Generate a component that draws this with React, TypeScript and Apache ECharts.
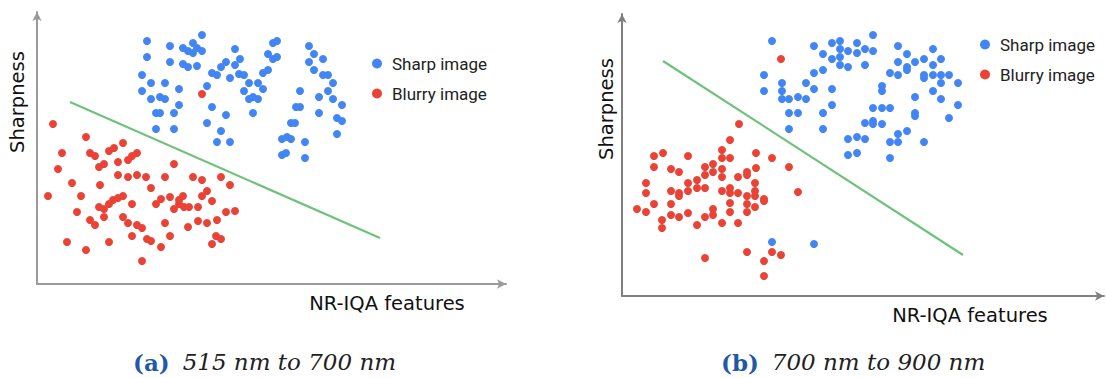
import React, { useEffect, useRef } from "react";
import * as echarts from "echarts";

// Panel (a): 515 nm to 700 nm — [NR-IQA feature, sharpness]
const sharpA: number[][] = [
  [110, 243], [110, 227], [133, 238], [133, 222], [105, 209], [105, 193], [114, 201], [114, 185],
  [128, 201], [123, 187], [128, 185], [119, 171], [123, 171], [119, 155], [137, 171], [137, 155],
  [142, 195], [142, 179], [146, 236], [151, 233], [156, 241], [160, 236], [156, 231], [165, 249],
  [165, 233], [146, 220], [151, 217], [160, 218], [170, 198], [175, 211], [180, 209], [184, 217],
  [189, 222], [198, 235], [198, 219], [203, 225], [193, 206], [202, 210], [207, 209], [212, 201],
  [207, 193], [212, 185], [216, 187], [221, 185], [221, 201], [226, 195], [216, 171], [175, 177],
  [170, 161], [189, 169], [184, 153], [180, 142], [193, 142], [226, 211], [231, 214], [231, 230],
  [236, 225], [240, 227], [236, 241], [240, 243], [263, 193], [259, 177], [263, 177], [254, 161],
  [258, 161], [245, 145], [250, 147], [254, 145], [268, 142], [245, 129], [249, 131], [268, 126],
  [272, 238], [277, 230], [272, 222], [277, 214], [286, 225], [286, 209], [291, 209], [296, 201],
  [291, 193], [282, 187], [296, 185], [305, 179], [282, 171], [300, 166], [305, 163], [300, 150],
];
const blurryA: number[][] = [
  [165, 190],
  [16, 160], [49, 147], [25, 131], [21, 115], [11, 88], [35, 101], [44, 88], [40, 72],
  [30, 42], [49, 34], [53, 131], [58, 128], [62, 117], [67, 120], [63, 99], [62, 77],
  [67, 75], [67, 67], [53, 64], [58, 59], [72, 42], [72, 133], [77, 136], [86, 141],
  [81, 122], [91, 124], [95, 128], [100, 131], [81, 109], [91, 107], [100, 109], [109, 107],
  [114, 96], [72, 80], [76, 84], [81, 86], [86, 88], [95, 80], [86, 67], [91, 61],
  [100, 59], [105, 56], [95, 48], [110, 45], [114, 43], [105, 23], [124, 37], [133, 48],
  [128, 61], [128, 107], [137, 120], [119, 80], [124, 85], [133, 87], [137, 75], [142, 80],
  [142, 84], [146, 88], [147, 77], [152, 77], [161, 77], [156, 107], [165, 104], [170, 93],
  [165, 88], [175, 83], [184, 107], [193, 99], [189, 72], [198, 73], [161, 63], [170, 61],
  [180, 64], [151, 57], [179, 48], [184, 45], [175, 40],
];
const boundaryA: number[][] = [[33, 182], [343, 46]];

// Panel (b): 700 nm to 900 nm
const sharpB: number[][] = [
  [251, 261], [192, 250], [210, 253], [218, 255], [218, 247], [226, 245], [235, 253], [235, 243],
  [243, 247], [251, 245], [201, 242], [210, 237], [218, 239], [218, 231], [226, 229], [243, 231],
  [192, 223], [201, 226], [184, 213], [192, 207], [210, 207], [160, 213], [160, 205], [160, 197],
  [167, 197], [176, 199], [184, 197], [167, 183], [176, 183], [201, 183], [210, 191], [167, 167],
  [201, 167], [260, 210], [260, 205], [251, 188], [260, 188], [268, 188], [243, 173], [251, 175],
  [251, 172], [260, 172], [226, 157], [235, 159], [243, 157], [226, 141], [235, 143], [268, 154],
  [276, 154], [276, 162], [285, 165], [268, 138], [302, 154], [276, 250], [285, 242], [276, 234],
  [285, 229], [285, 226], [293, 234], [268, 223], [276, 221], [302, 237], [311, 247], [319, 237],
  [311, 231], [302, 221], [302, 218], [311, 221], [319, 221], [327, 221], [319, 213], [336, 213],
  [311, 205], [319, 197], [293, 199], [293, 183], [293, 180], [327, 178], [336, 191], [150, 255],
  [142, 221], [142, 205], [150, 54], [192, 52],
];
const blurryB: number[][] = [
  [159, 237],
  [117, 172], [108, 156], [100, 146], [100, 138], [108, 138], [134, 143], [150, 138], [32, 140],
  [41, 143], [66, 140], [32, 129], [49, 127], [83, 129], [91, 132], [100, 127], [134, 128],
  [167, 129], [57, 124], [91, 124], [100, 119], [83, 121], [75, 116], [66, 113], [66, 105],
  [75, 108], [83, 108], [57, 103], [57, 100], [49, 105], [24, 113], [24, 103], [32, 92],
  [15, 87], [24, 84], [49, 92], [49, 81], [57, 79], [40, 76], [40, 68], [66, 83],
  [75, 71], [83, 79], [91, 87], [91, 81], [100, 73], [100, 105], [108, 108], [108, 103],
  [116, 103], [108, 93], [108, 84], [116, 73], [116, 119], [125, 121], [125, 124], [133, 113],
  [133, 105], [125, 100], [133, 100], [125, 92], [125, 84], [133, 89], [142, 97], [142, 95],
  [176, 104], [83, 38], [125, 44], [150, 44], [159, 41], [142, 35], [142, 20],
];
const boundaryB: number[][] = [[41, 235], [341, 41]];

const legendNames = ["Sharp image", "Blurry image"];
const axisTitles = { x: "NR-IQA features", y: "Sharpness" };
const captions = [
  { tag: "(a)", text: "515 nm to 700 nm" },
  { tag: "(b)", text: "700 nm to 900 nm" },
];

const BLUE = "#4285f4";
const RED = "#ea4335";
const GREEN = "#6fc27b";

const hiddenAxis = (gridIndex: number, max: number, color: string) => ({
  type: "value" as const,
  gridIndex,
  min: 0,
  max,
  axisLine: {
    show: true,
    symbol: ["none", "arrow"],
    symbolSize: [7, 9],
    lineStyle: { color, width: 2 },
  },
  axisTick: { show: false },
  axisLabel: { show: false },
  splitLine: { show: false },
});

const scatter = (name: string, data: number[][], idx: number, color: string) => ({
  name,
  type: "scatter" as const,
  xAxisIndex: idx,
  yAxisIndex: idx,
  data,
  symbolSize: 8,
  itemStyle: { color, opacity: 1 },
});

const boundary = (data: number[][], idx: number) => ({
  type: "line" as const,
  xAxisIndex: idx,
  yAxisIndex: idx,
  data,
  symbol: "none",
  silent: true,
  lineStyle: { color: GREEN, width: 2.2 },
});

const legendAt = (left: number, top: number) => ({
  data: legendNames,
  orient: "vertical" as const,
  left,
  top,
  icon: "circle",
  itemWidth: 20,
  itemHeight: 10,
  itemGap: 13,
  textStyle: { fontFamily: "Roboto", fontSize: 17, color: "#222" },
});

const axisText = (text: string, x: number, y: number, rotate = false) => ({
  type: "text" as const,
  x,
  y,
  rotation: rotate ? Math.PI / 2 : 0,
  style: {
    text,
    fontFamily: "DejaVu Sans",
    fontSize: 19.5,
    fill: "#111",
    align: "center",
    verticalAlign: "middle",
  },
});

const captionText = (tag: string, text: string, x: number, y: number) => ({
  type: "text" as const,
  x,
  y,
  style: {
    text: `{a|${tag}}{t|${text}}`,
    align: "left",
    verticalAlign: "middle",
    rich: {
      a: {
        fontFamily: "DejaVu Serif",
        fontWeight: "bold",
        fontSize: 23,
        fill: "#1f5aa6",
        padding: [0, 13, 0, 0],
      },
      t: { fontFamily: "DejaVu Serif", fontStyle: "italic", fontSize: 23, fill: "#222" },
    },
  },
});

export default function App() {
  const ref = useRef<HTMLDivElement>(null);

  useEffect(() => {
    if (!ref.current) return;
    const chart = echarts.init(ref.current, undefined, { renderer: "svg" });
    chart.setOption({
      animation: false,
      backgroundColor: "#fff",
      grid: [
        { left: 37, top: 12, width: 469, height: 272 },
        { left: 622, top: 14, width: 482, height: 282 },
      ],
      xAxis: [hiddenAxis(0, 469, "#9a9a9a"), hiddenAxis(1, 482, "#808080")],
      yAxis: [hiddenAxis(0, 272, "#9a9a9a"), hiddenAxis(1, 282, "#808080")],
      legend: [legendAt(367, 50), legendAt(975, 31)],
      series: [
        scatter(legendNames[0], sharpA, 0, BLUE),
        scatter(legendNames[1], blurryA, 0, RED),
        boundary(boundaryA, 0),
        scatter(legendNames[0], sharpB, 1, BLUE),
        scatter(legendNames[1], blurryB, 1, RED),
        boundary(boundaryB, 1),
      ],
      graphic: [
        axisText(axisTitles.y, 17, 102, true),
        axisText(axisTitles.x, 387, 303),
        axisText(axisTitles.y, 606, 109, true),
        axisText(axisTitles.x, 970, 315),
        captionText(captions[0].tag, captions[0].text, 133, 362),
        captionText(captions[1].tag, captions[1].text, 721, 362),
      ],
    });
    return () => chart.dispose();
  }, []);

  return (
    <div
      ref={ref}
      style={{ position: "fixed", left: 0, top: 0, width: 1106, height: 378, background: "#fff" }}
    />
  );
}
